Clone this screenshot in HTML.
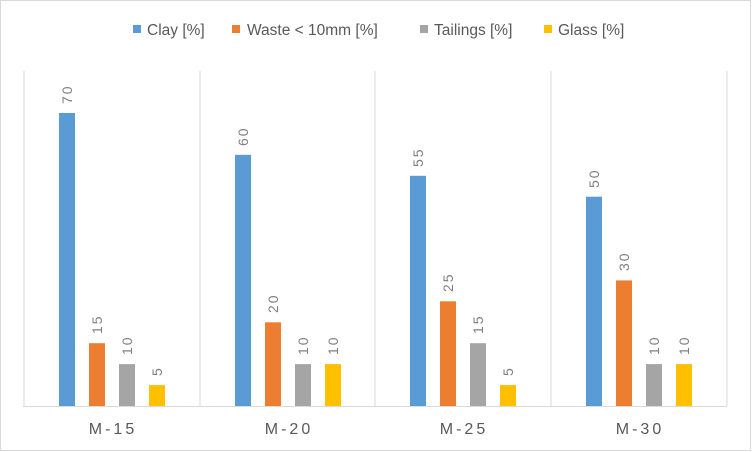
<!DOCTYPE html>
<html><head><meta charset="utf-8"><style>
html,body{margin:0;padding:0;background:#fff}
svg{display:block;font-family:"Liberation Sans",sans-serif}
</style></head><body>
<svg width="752" height="452" viewBox="0 0 752 452" xmlns="http://www.w3.org/2000/svg">
<rect x="0.5" y="0.5" width="750" height="450" fill="#fff" stroke="#d9d9d9"/>
<g stroke="#d9d9d9" stroke-width="1">
<line x1="24" y1="71" x2="24" y2="406"/>
<line x1="200" y1="71" x2="200" y2="406"/>
<line x1="375" y1="71" x2="375" y2="406"/>
<line x1="551" y1="71" x2="551" y2="406"/>
<line x1="727" y1="71" x2="727" y2="406"/>
<line x1="23" y1="406.5" x2="727" y2="406.5"/>
</g>
<g font-size="15.5" fill="#595959">
<rect x="133" y="25" width="8" height="8" fill="#5b9bd5"/><text x="147" y="35">Clay [%]</text>
<rect x="232" y="25" width="8" height="8" fill="#ed7d31"/><text x="247" y="35">Waste &lt; 10mm [%]</text>
<rect x="420" y="25" width="8" height="8" fill="#a5a5a5"/><text x="434" y="35">Tailings [%]</text>
<rect x="544" y="25" width="8" height="8" fill="#ffc000"/><text x="558" y="35">Glass [%]</text>
</g>
<g>
<rect x="59" y="113" width="16" height="293" fill="#5b9bd5"/>
<rect x="89" y="343.2" width="16" height="62.8" fill="#ed7d31"/>
<rect x="119" y="364.1" width="16" height="41.9" fill="#a5a5a5"/>
<rect x="149" y="385.1" width="16" height="20.9" fill="#ffc000"/>
<rect x="235" y="154.8" width="16" height="251.2" fill="#5b9bd5"/>
<rect x="265" y="322.3" width="16" height="83.7" fill="#ed7d31"/>
<rect x="295" y="364.1" width="16" height="41.9" fill="#a5a5a5"/>
<rect x="325" y="364.1" width="16" height="41.9" fill="#ffc000"/>
<rect x="410" y="175.8" width="16" height="230.2" fill="#5b9bd5"/>
<rect x="440" y="301.3" width="16" height="104.7" fill="#ed7d31"/>
<rect x="470" y="343.2" width="16" height="62.8" fill="#a5a5a5"/>
<rect x="500" y="385.1" width="16" height="20.9" fill="#ffc000"/>
<rect x="586" y="196.7" width="16" height="209.3" fill="#5b9bd5"/>
<rect x="616" y="280.4" width="16" height="125.6" fill="#ed7d31"/>
<rect x="646" y="364.1" width="16" height="41.9" fill="#a5a5a5"/>
<rect x="676" y="364.1" width="16" height="41.9" fill="#ffc000"/>
</g>
<g font-size="14" fill="#7f7f7f" letter-spacing="2">
<text transform="translate(72,104) rotate(-90)">70</text>
<text transform="translate(102,334) rotate(-90)">15</text>
<text transform="translate(132,355) rotate(-90)">10</text>
<text transform="translate(162,376) rotate(-90)">5</text>
<text transform="translate(248,146) rotate(-90)">60</text>
<text transform="translate(278,313) rotate(-90)">20</text>
<text transform="translate(308,355) rotate(-90)">10</text>
<text transform="translate(338,355) rotate(-90)">10</text>
<text transform="translate(423,167) rotate(-90)">55</text>
<text transform="translate(453,292) rotate(-90)">25</text>
<text transform="translate(483,334) rotate(-90)">15</text>
<text transform="translate(513,376) rotate(-90)">5</text>
<text transform="translate(599,188) rotate(-90)">50</text>
<text transform="translate(629,271) rotate(-90)">30</text>
<text transform="translate(659,355) rotate(-90)">10</text>
<text transform="translate(689,355) rotate(-90)">10</text>
</g>
<g font-size="16" fill="#595959" text-anchor="middle" letter-spacing="3">
<text x="113" y="434">M-15</text>
<text x="289" y="434">M-20</text>
<text x="464" y="434">M-25</text>
<text x="640" y="434">M-30</text>
</g>
</svg>
</body></html>
